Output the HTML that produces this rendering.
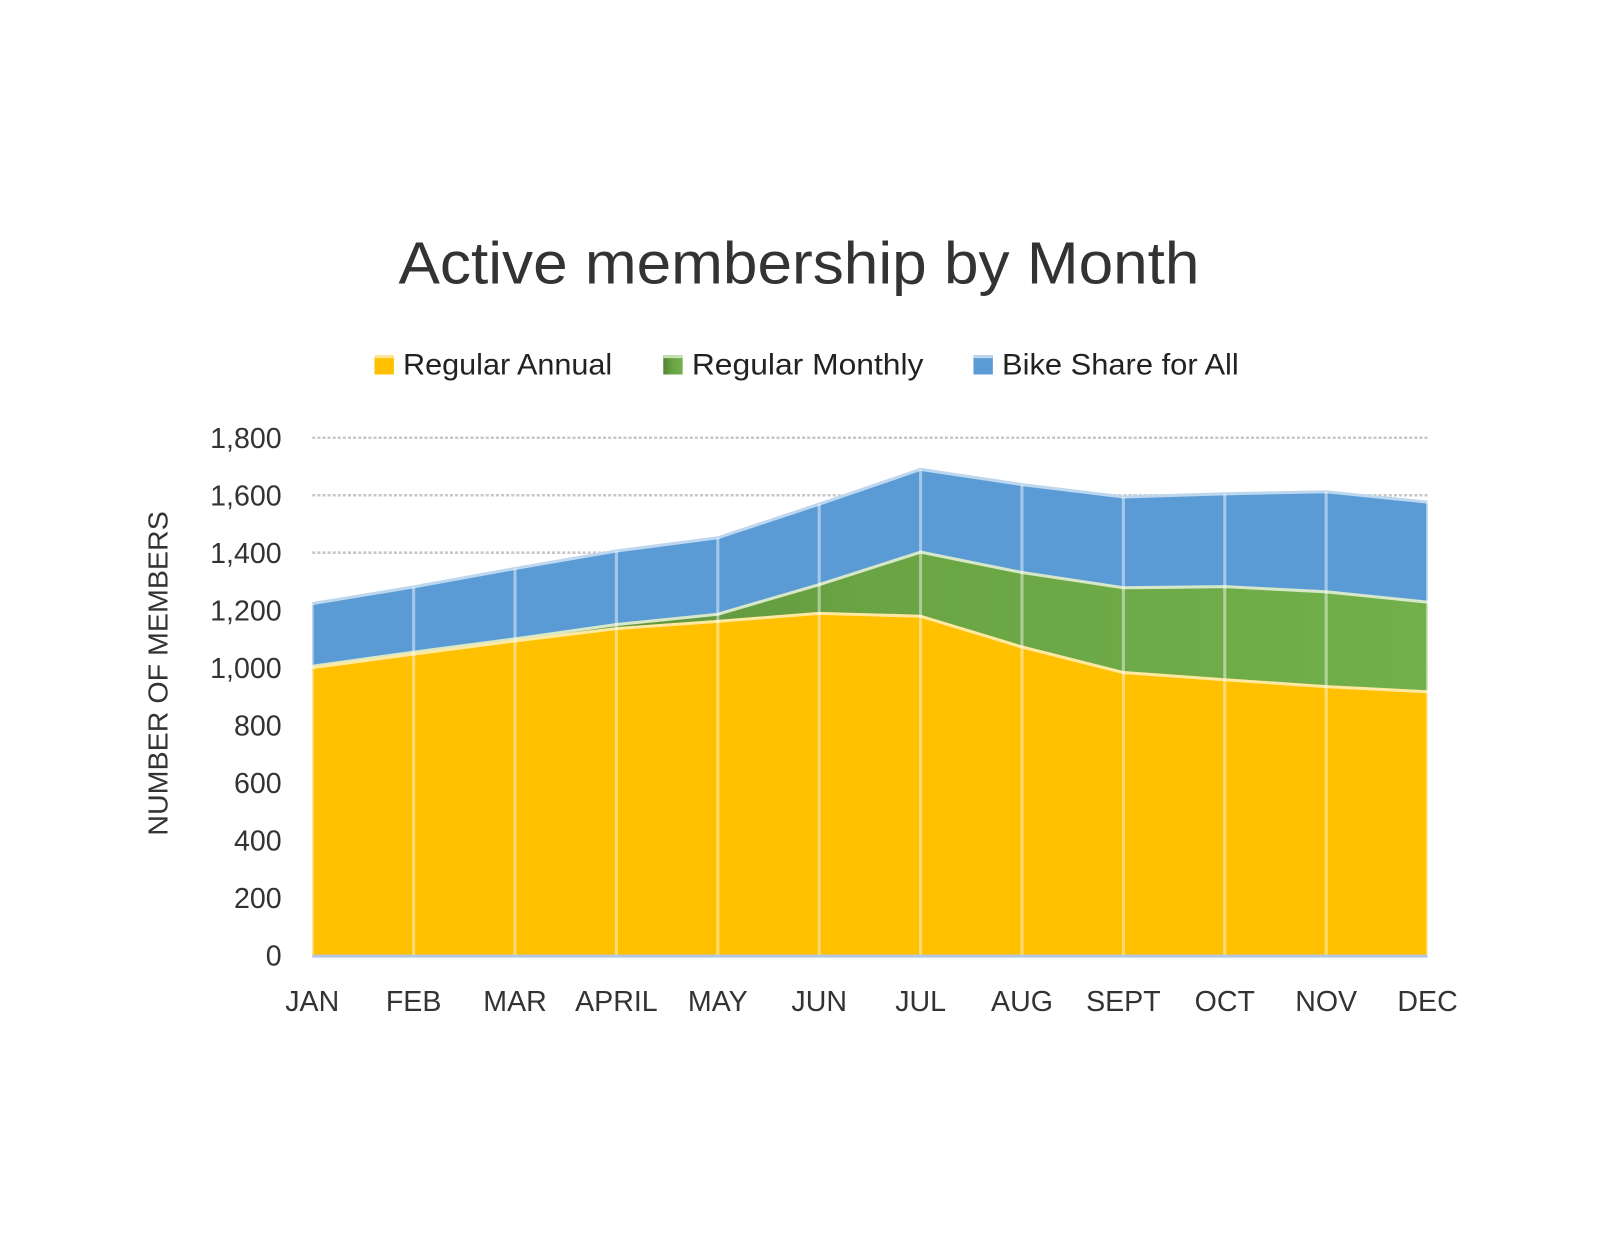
<!DOCTYPE html>
<html><head><meta charset="utf-8"><style>
body{margin:0;background:#fff;}
svg text{font-family:"Liberation Sans",sans-serif;}
</style></head><body>
<svg id="chart" width="1600" height="1236" viewBox="0 0 1568 1211.3" preserveAspectRatio="none" xmlns="http://www.w3.org/2000/svg">
<defs>
<linearGradient id="gGreen" x1="0" y1="0" x2="1" y2="0">
<stop offset="0" stop-color="#548235"/><stop offset="0.5" stop-color="#6aa444"/><stop offset="1" stop-color="#72b04a"/>
</linearGradient>
</defs>
<text x="783" y="278" font-size="58" fill="#333" text-anchor="middle" textLength="785" lengthAdjust="spacingAndGlyphs">Active membership by Month</text>
<g>
<g><rect x="367" y="348" width="19" height="19" fill="#FFC000"/><rect x="367" y="348" width="19" height="3" fill="#ffe699"/><text x="395" y="367" font-size="29" fill="#222" textLength="205" lengthAdjust="spacingAndGlyphs">Regular Annual</text></g>
<g><rect x="650" y="348" width="19" height="19" fill="url(#gGreen)"/><rect x="650" y="348" width="19" height="3" fill="#c5e0b4"/><text x="678" y="367" font-size="29" fill="#222" textLength="227" lengthAdjust="spacingAndGlyphs">Regular Monthly</text></g>
<g><rect x="954" y="348" width="19" height="19" fill="#5B9BD5"/><rect x="954" y="348" width="19" height="3" fill="#bdd7ee"/><text x="982" y="367" font-size="29" fill="#222" textLength="232" lengthAdjust="spacingAndGlyphs">Bike Share for All</text></g>
</g>
<text transform="translate(164,660) rotate(-90)" font-size="27" fill="#333" text-anchor="middle" textLength="318" lengthAdjust="spacingAndGlyphs">NUMBER OF MEMBERS</text>
<g id="grid"></g><g id="areas"></g><g id="axes"></g>
</svg>
<script>
const months = ["JAN","FEB","MAR","APRIL","MAY","JUN","JUL","AUG","SEPT","OCT","NOV","DEC"];
const annual = [1000,1047,1093,1136,1161,1189,1179,1072,983,958,934,916];
const monthly = [5,7,7,14,25,100,223,259,295,324,330,312];
const bikeShare = [218,227,245,256,266,280,288,306,316,323,348,348];
const yTicks = [0,200,400,600,800,1000,1200,1400,1600,1800];
const NS="http://www.w3.org/2000/svg";
const x0=306,x1=1399,yBase=936,yTop=429,yMax=1800;
const X=i=>x0+i*(x1-x0)/(months.length-1);
const Y=v=>yBase-v*(yBase-yTop)/yMax;
function mk(t,a,p){const e=document.createElementNS(NS,t);for(const k in a)e.setAttribute(k,a[k]);p.appendChild(e);return e;}
const grid=document.getElementById('grid'),areas=document.getElementById('areas'),axes=document.getElementById('axes');
yTicks.forEach(v=>{
  if(v>0){const l=mk('line',{x1:x0,x2:x1,y1:Y(v),y2:Y(v),stroke:'#c8c8c8','stroke-width':2.5,'stroke-dasharray':'3,2'},grid);
  
  }
  const t=mk('text',{x:276,y:Y(v)+10,'font-size':28,fill:'#333','text-anchor':'end'},axes);
  t.textContent=v.toLocaleString('en-US');
  
  
});
const c1=annual, c2=annual.map((v,i)=>v+monthly[i]), c3=c2.map((v,i)=>v+bikeShare[i]);
function area(top,bot,fill,edge,name){
  let d='M'+X(0)+','+Y(top[0]);
  top.forEach((v,i)=>d+=' L'+X(i)+','+Y(v));
  for(let i=bot.length-1;i>=0;i--)d+=' L'+X(i)+','+Y(bot[i]);
  const p=mk('path',{d:d+'Z',fill:fill},areas);
  
  
  let dl='';top.forEach((v,i)=>dl+=(i?' L':'M')+X(i)+','+Y(v));
  const l=mk('path',{d:dl,fill:'none',stroke:edge,'stroke-width':3},areas);
  
  
}
const zero=months.map(()=>0);
area(c3,c2,'#5B9BD5','#bdd7ee','area-bike-share');
area(c2,c1,'url(#gGreen)','#d6e8c8','area-regular-monthly');
area(c1,zero,'#FFC000','#ffe9a0','area-regular-annual');
months.forEach((m,i)=>{
  const l=mk('line',{x1:X(i),x2:X(i),y1:Y(c3[i]),y2:yBase,stroke:'#ffffff','stroke-opacity':0.45,'stroke-width':3},areas);
  
  
  const t=mk('text',{x:X(i),y:991,'font-size':28,fill:'#333','text-anchor':'middle'},axes);
  t.textContent=m;
  
  
});
const ax=mk('line',{x1:x0,x2:x1,y1:yBase+1,y2:yBase+1,stroke:'#b4c7e7','stroke-width':3},axes);


</script>
</body></html>
